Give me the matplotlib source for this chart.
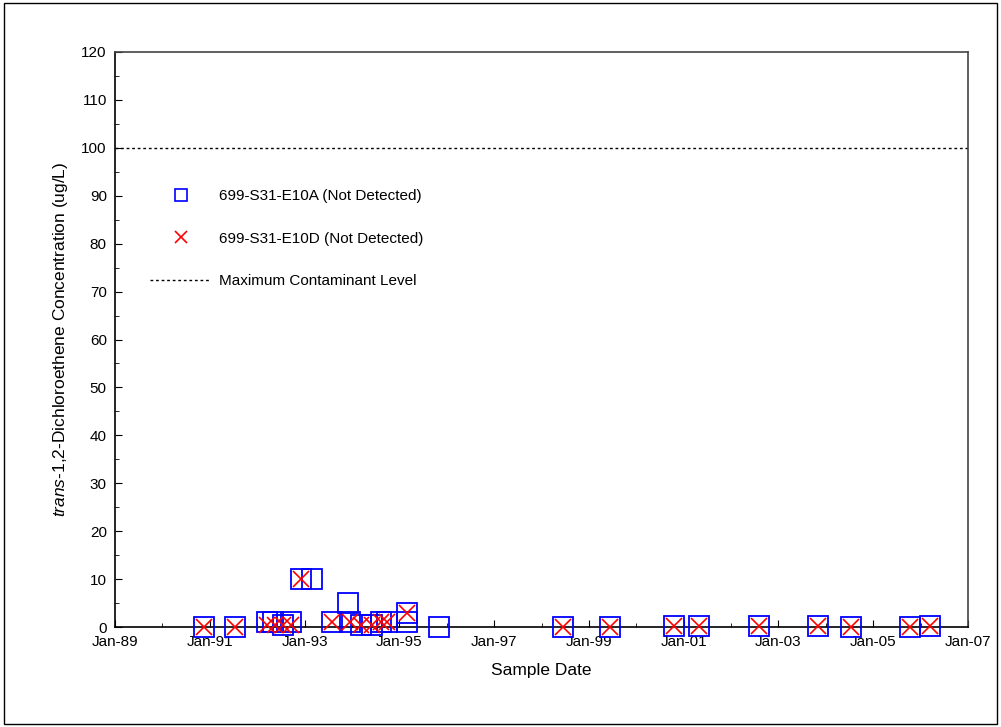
import matplotlib
matplotlib.use('Agg')
import matplotlib.pyplot as plt
import matplotlib.dates as mdates
from matplotlib.lines import Line2D
from matplotlib.patches import Rectangle
import pandas as pd

plt.rcParams['font.family'] = ['Liberation Sans', 'DejaVu Sans']
plt.rcParams['mathtext.fontset'] = 'custom'
plt.rcParams['mathtext.rm'] = 'Liberation Sans'
plt.rcParams['mathtext.it'] = 'Liberation Sans:italic'

# 699-S31-E10A (squares)
dates_a = ['1990-11-15', '1991-07-15', '1992-03-15', '1992-05-01', '1992-07-15',
           '1992-09-15', '1992-12-01', '1993-03-01', '1993-08-01', '1993-12-01',
           '1993-12-15', '1994-03-15', '1994-06-01', '1994-08-15', '1994-10-01',
           '1995-03-01', '1995-03-01', '1995-11-01', '1998-06-15', '1999-06-15',
           '2000-10-15', '2001-05-01', '2002-08-01', '2003-11-01', '2004-07-15',
           '2005-10-15', '2006-03-15']
vals_a = [0, 0, 1, 1, 0.5, 1, 10, 10, 1, 5, 1, 0.5, 0.5, 1, 1, 3, 1, 0,
          0, 0, 0.3, 0.3, 0.3, 0.3, 0, 0, 0.3]

# 699-S31-E10D (x marks)
dates_d = ['1990-11-15', '1991-07-15', '1992-03-15', '1992-05-15', '1992-07-15',
           '1992-09-15', '1992-12-01', '1993-08-01', '1993-12-15', '1994-03-15',
           '1994-06-01', '1994-08-15', '1994-10-01', '1995-03-01', '1998-06-15',
           '1999-06-15', '2000-10-15', '2001-05-01', '2002-08-01', '2003-11-01',
           '2004-07-15', '2005-10-15', '2006-03-15']
vals_d = [0, 0, 0.5, 0.5, 0.5, 0.5, 10, 1, 1, 0.5, 0.5, 1, 1, 3,
          0, 0, 0.3, 0.3, 0.3, 0.3, 0, 0, 0.3]

mcl = 100

fig = plt.figure(figsize=(10.01, 7.27), dpi=100)
ax = fig.add_axes([0.115, 0.1375, 0.852, 0.791])

ax.plot(pd.to_datetime(dates_a), vals_a, linestyle='none', marker='s', markersize=14,
        markerfacecolor='none', markeredgecolor='blue', markeredgewidth=1.3,
        clip_on=False, zorder=3)
ax.plot(pd.to_datetime(dates_d), vals_d, linestyle='none', marker='x', markersize=11,
        color='red', markeredgewidth=1.2, clip_on=False, zorder=4)
ax.axhline(mcl, color='black', linestyle=(0, (2, 2)), linewidth=1)

ax.set_xlim(pd.Timestamp('1989-01-01'), pd.Timestamp('2007-01-01'))
ax.set_ylim(0, 120)
ax.set_xticks(pd.date_range('1989-01-01', '2007-01-01', freq='2YS'))
ax.set_xticks(pd.date_range('1989-01-01', '2007-01-01', freq='YS'), minor=True)
ax.xaxis.set_major_formatter(mdates.DateFormatter('%b-%y'))
ax.set_yticks(range(0, 121, 10))
ax.set_yticks(range(0, 121, 5), minor=True)
ax.tick_params(which='both', direction='in', labelsize=11, pad=6)
ax.tick_params(which='major', length=5)
ax.tick_params(which='minor', length=3)
for s in ax.spines.values():
    s.set_linewidth(1.2)
ax.spines['top'].set_color('#444444')
ax.spines['right'].set_color('#444444')

ax.set_xlabel('Sample Date', fontsize=12.5, labelpad=10)
ax.set_ylabel(r'$\it{trans}$-1,2-Dichloroethene Concentration (ug/L)', fontsize=12.5, labelpad=8)

handles = [
    Line2D([], [], linestyle='none', marker='s', markersize=8, markerfacecolor='none',
           markeredgecolor='blue', markeredgewidth=1.2),
    Line2D([], [], linestyle='none', marker='x', markersize=9, color='red', markeredgewidth=1.2),
    Line2D([], [], color='black', linestyle=(0, (2, 2)), linewidth=1),
]
labels = ['699-S31-E10A (Not Detected)', '699-S31-E10D (Not Detected)',
          'Maximum Contaminant Level']
ax.legend(handles, labels, loc='upper left', bbox_to_anchor=(0.025, 0.785), frameon=False,
          fontsize=11, handlelength=4.0, handletextpad=0.5, labelspacing=1.85)

fig.patches.append(Rectangle((0.004, 0.004), 0.992, 0.992, transform=fig.transFigure,
                             fill=False, edgecolor='black', linewidth=1))

fig.savefig('out.png', dpi=100)
